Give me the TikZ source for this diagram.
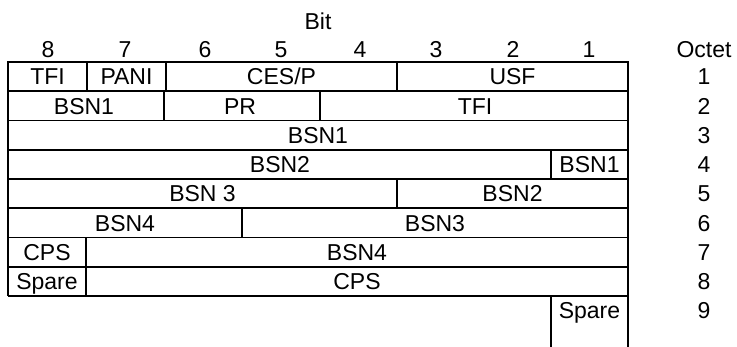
\documentclass[tikz,border=0pt]{standalone}
\usepackage{fontspec}
\setmainfont{Liberation Sans}
\begin{document}
\begin{tikzpicture}[x=1pt,y=-1pt,
  grid/.style={line width=1.8pt},
  lbl/.style={inner sep=0pt, text height=16.5pt, text depth=0pt, font=\fontsize{23}{27}\selectfont}]
\useasboundingbox (0,0) rectangle (737,347);
% row boundaries
\def\ra{62}\def\rb{91.25}\def\rc{120.5}\def\rd{149.75}\def\re{179}
\def\rf{208.25}\def\rg{237.5}\def\rh{266.75}\def\ri{296}
% outer frame
\draw[grid] (8,\ri) -- (8,\ra) -- (628,\ra) -- (628,347);
\foreach \y in {\rb,\rc,\rd,\re,\rf,\rg,\rh,\ri}
  \draw[grid] (8,\y) -- (628,\y);
% inner dividers
\draw[grid] (87,\ra) -- (87,\rb);
\draw[grid] (166,\ra) -- (166,\rb);
\draw[grid] (397,\ra) -- (397,\rb);
\draw[grid] (164,\rb) -- (164,\rc);
\draw[grid] (320,\rb) -- (320,\rc);
\draw[grid] (551,\rd) -- (551,\re);
\draw[grid] (397,\re) -- (397,\rf);
\draw[grid] (242,\rf) -- (242,\rg);
\draw[grid] (86,\rg) -- (86,\ri);
\draw[grid] (551,\ri) -- (551,347);
% header
\node[lbl] (bit) at (318,21.5) {Bit};
\node[lbl] (octet) at (704,49) {Octet};
\node[lbl] (b8) at (48,49) {8};
\node[lbl] (b7) at (125,49) {7};
\node[lbl] (b6) at (205,49) {6};
\node[lbl] (b5) at (281,49) {5};
\node[lbl] (b4) at (360,49) {4};
\node[lbl] (b3) at (436,49) {3};
\node[lbl] (b2) at (513,49) {2};
\node[lbl] (b1) at (589,49) {1};
% octet numbers
\foreach \n/\y in {1/76.6,2/105.9,3/135.1,4/164.4,5/193.6,6/222.9,7/252.1,8/281.4,9/310.6}
  \node[lbl] (o\n) at (704,\y) {\n};
% row 1
\node[lbl] (r1a) at (47.5,76.6) {TFI};
\node[lbl] (r1b) at (126.5,76.6) {PANI};
\node[lbl] (r1c) at (281.5,76.6) {CES/P};
\node[lbl] (r1d) at (512.5,76.6) {USF};
% row 2
\node[lbl] (r2a) at (84,105.9) {BSN1};
\node[lbl] (r2b) at (240,105.9) {PR};
\node[lbl] (r2c) at (475,105.9) {TFI};
% row 3
\node[lbl] (r3a) at (318,135.1) {BSN1};
% row 4
\node[lbl] (r4a) at (280,164.4) {BSN2};
\node[lbl] (r4b) at (589.5,164.4) {BSN1};
% row 5
\node[lbl] (r5a) at (202.5,193.6) {BSN 3};
\node[lbl] (r5b) at (512.5,193.6) {BSN2};
% row 6
\node[lbl] (r6a) at (125,222.9) {BSN4};
\node[lbl] (r6b) at (435,222.9) {BSN3};
% row 7
\node[lbl] (r7a) at (47,252.1) {CPS};
\node[lbl] (r7b) at (357,252.1) {BSN4};
% row 8
\node[lbl] (r8a) at (47,281.4) {Spare};
\node[lbl] (r8b) at (357,281.4) {CPS};
% row 9
\node[lbl] (r9a) at (589.5,310.6) {Spare};
\end{tikzpicture}
\end{document}
